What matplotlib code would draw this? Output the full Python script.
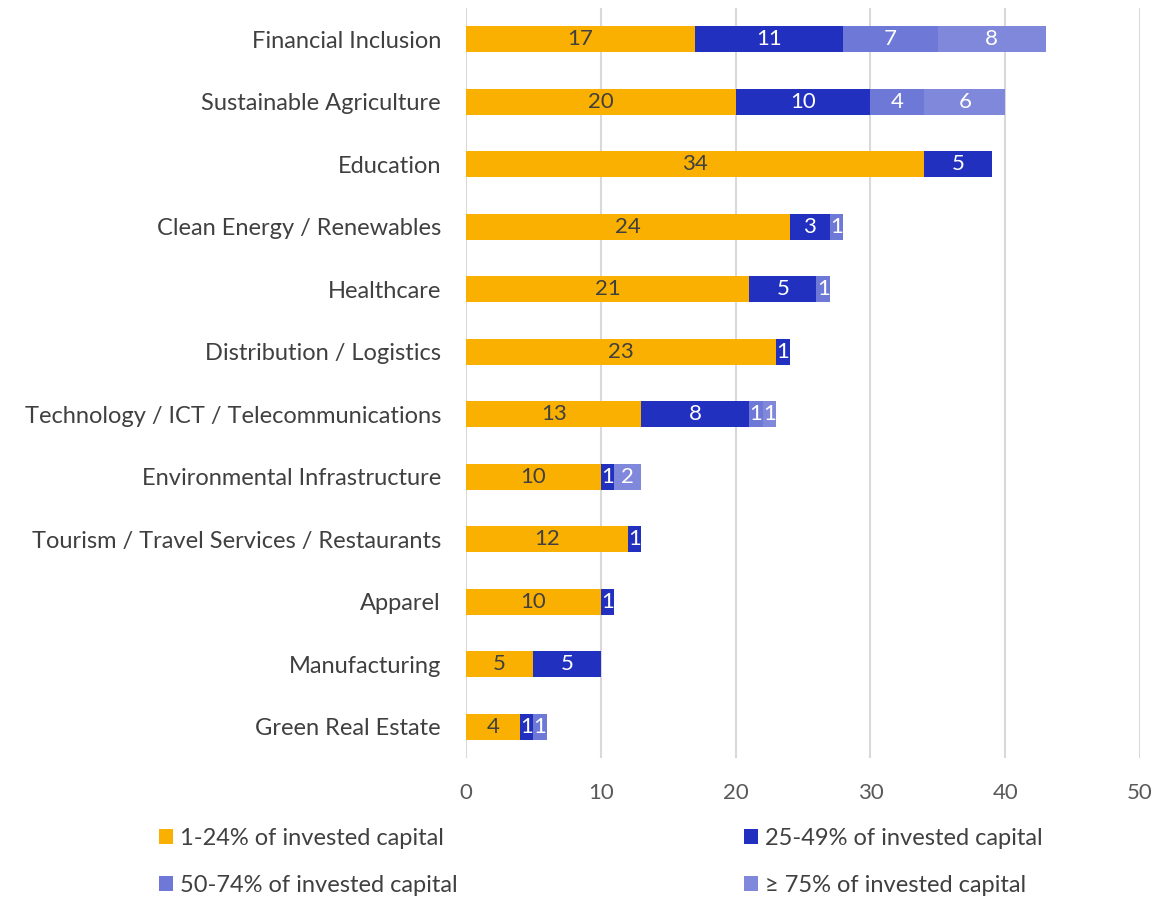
import matplotlib
matplotlib.use("Agg")
import matplotlib.pyplot as plt
import numpy as np
from matplotlib.patches import Patch

plt.rcParams['font.family'] = ['Lato', 'DejaVu Sans']

categories = ["Financial Inclusion", "Sustainable Agriculture", "Education",
              "Clean Energy / Renewables", "Healthcare", "Distribution / Logistics",
              "Technology / ICT / Telecommunications", "Environmental Infrastructure",
              "Tourism / Travel Services / Restaurants", "Apparel", "Manufacturing",
              "Green Real Estate"]
s1_24 = [17, 20, 34, 24, 21, 23, 13, 10, 12, 10, 5, 4]
s25_49 = [11, 10, 5, 3, 5, 1, 8, 1, 1, 1, 5, 1]
s50_74 = [7, 4, 0, 1, 1, 0, 1, 0, 0, 0, 0, 1]
s75 = [8, 6, 0, 0, 0, 0, 1, 2, 0, 0, 0, 0]
series_names = ["1-24% of invested capital", "25-49% of invested capital",
                "50-74% of invested capital", "\u2265 75% of invested capital"]
colors = ["#FAB000", "#2130BE", "#6E78D6", "#8088DC"]
label_colors = ["#404040", "white", "white", "white"]
xticks = [0, 10, 20, 30, 40, 50]

fig = plt.figure(figsize=(11.55, 8.98), dpi=100)
ax = fig.add_axes([466/1155, 1-758/898, (1140-466)/1155, 750/898])

y = np.arange(len(categories))
left = np.zeros(len(categories))
for vals, c, lc in zip([s1_24, s25_49, s50_74, s75], colors, label_colors):
    vals = np.array(vals, dtype=float)
    ax.barh(y, vals, left=left, height=0.42, color=c, edgecolor='none', zorder=3)
    for yi, (l, v) in enumerate(zip(left, vals)):
        if v > 0:
            ax.text(l + v/2, yi, f"{int(v)}", ha='center', va='center',
                    color=lc, fontsize=16, zorder=4)
    left += vals

ax.set_ylim(len(categories)-0.5, -0.5)
ax.set_xlim(0, 50)
ax.set_yticks(y)
ax.set_yticklabels(categories, fontsize=17, color='#404040')
ax.set_xticks(xticks)
ax.set_xticklabels([str(t) for t in xticks], fontsize=16, color='#595959')
ax.tick_params(axis='both', length=0)
ax.tick_params(axis='y', pad=18)
ax.tick_params(axis='x', pad=18)
ax.grid(axis='x', color='#D9D9D9', linewidth=1.5, zorder=0)
for s in ax.spines.values():
    s.set_visible(False)

handles = [Patch(facecolor=c, edgecolor='none') for c in colors]
order = [0, 2, 1, 3]
fig.legend([handles[i] for i in order], [series_names[i] for i in order],
           loc='upper left', ncol=2,
           bbox_to_anchor=(0.119, 0.102), frameon=False, fontsize=17,
           handlelength=0.62, handleheight=0.62, handletextpad=0.3,
           columnspacing=12.1, labelspacing=1.1, labelcolor='#404040')

fig.savefig("out.png", dpi=100)
